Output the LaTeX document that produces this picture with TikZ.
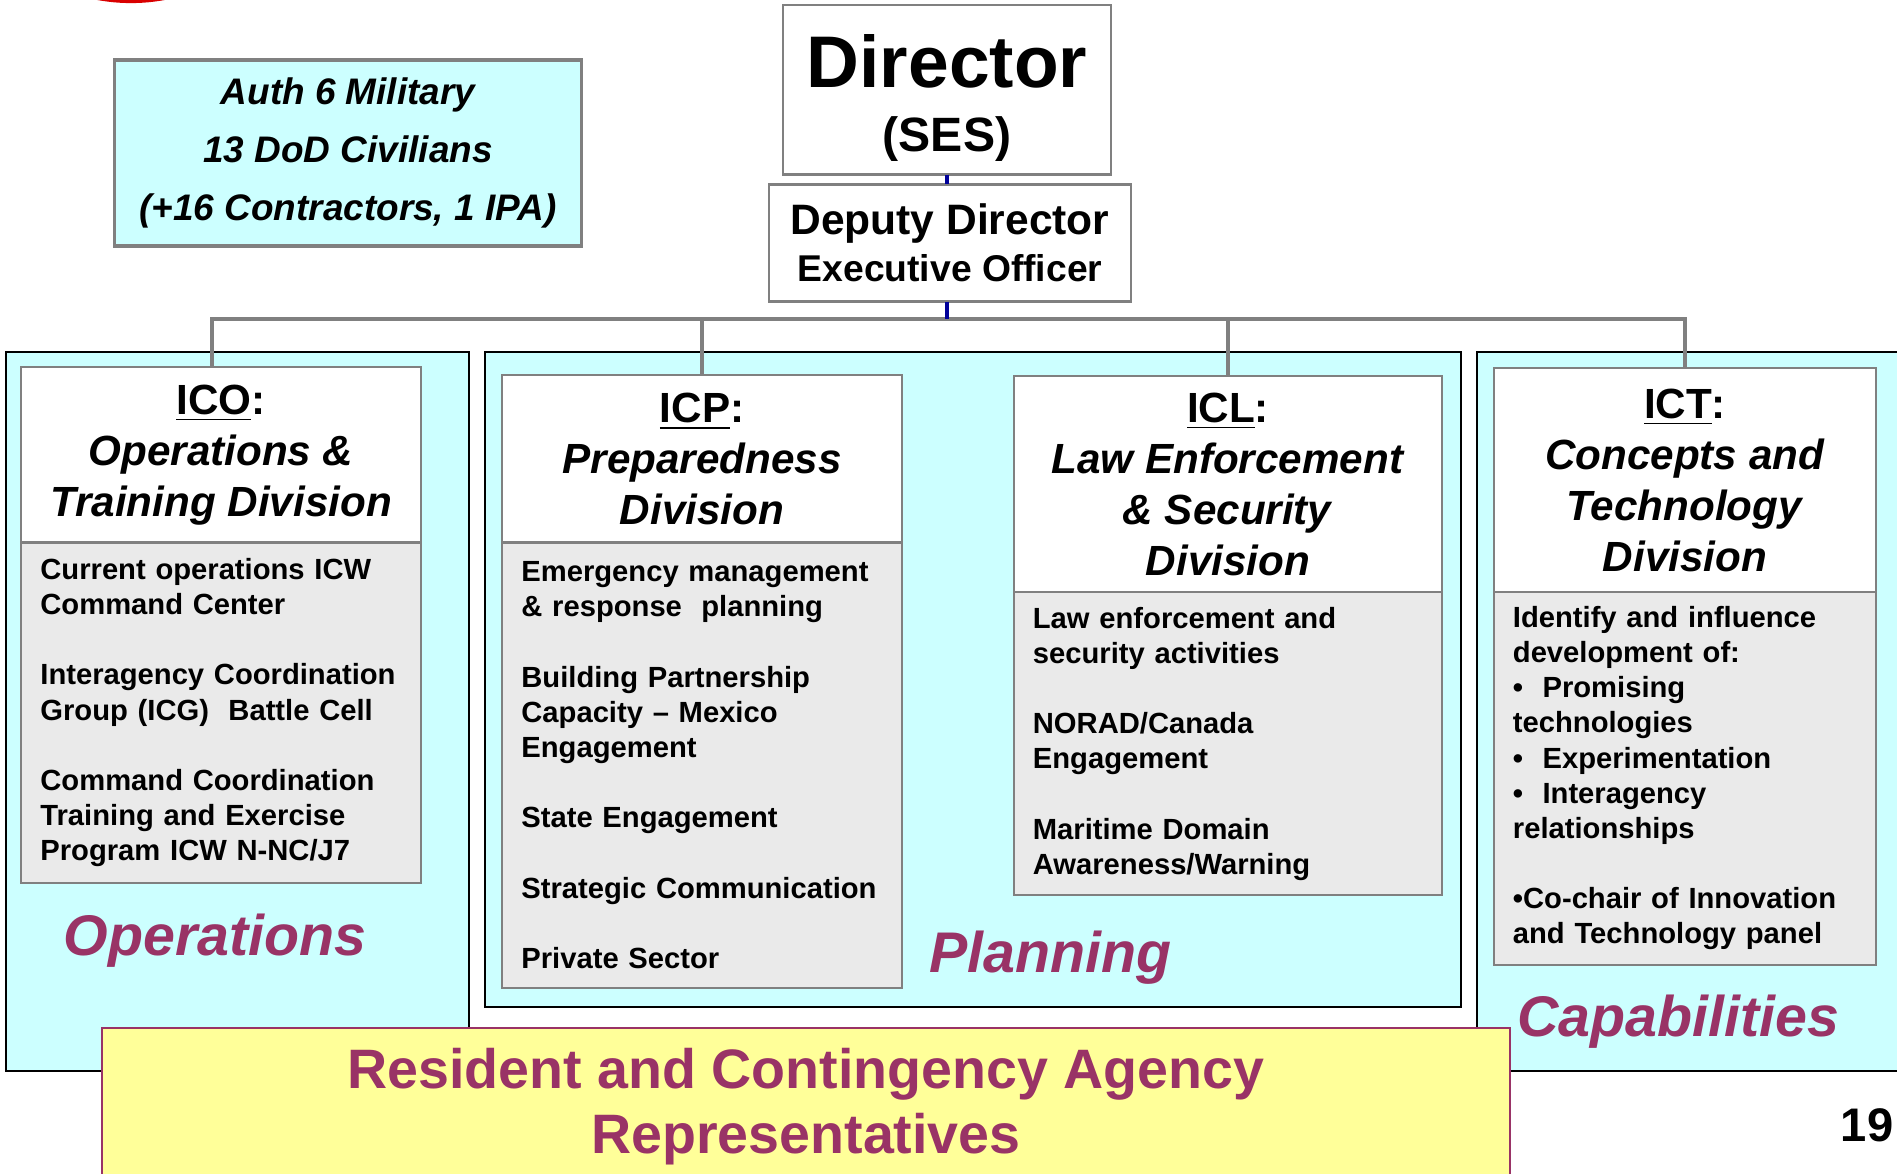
\documentclass[tikz,border=0pt]{standalone}
\usepackage{fontspec}
\setmainfont{Liberation Sans}
\usepackage{xcolor}
\usetikzlibrary{positioning}
\definecolor{panelcyan}{HTML}{CCFFFF}
\definecolor{bodygray}{HTML}{EAEAEA}
\definecolor{linegray}{HTML}{808080}
\definecolor{noteyellow}{HTML}{FFFF99}
\definecolor{plum}{HTML}{993366}
\definecolor{navy}{HTML}{000099}

\begin{document}
\begin{tikzpicture}[x=0.01cm, y=-0.01cm,
            box/.style={draw=linegray, line width=0.6pt, fill=white, align=center, inner sep=0pt, outer sep=0pt},
            headbox/.style={box, font=\bfseries\fontsize{12}{14.5}\selectfont},
            listbox/.style={box, fill=bodygray, align=left, font=\bfseries\fontsize{8.3}{10}\selectfont},
            panel/.style={draw=black, line width=0.6pt, fill=panelcyan},
            busline/.style={draw=linegray, line width=1.4pt},
            deputyline/.style={draw=navy, line width=1.2pt},
            tag/.style={text=plum, font=\bfseries\itshape\fontsize{16.3}{20}\selectfont}]
            \useasboundingbox (0,0) rectangle (1897,1174);
            \fill[red!85!black] (131,-180) circle (1.83cm);

            \draw[panel] (6,352) rectangle (469,1071);
            \draw[panel] (485,352) rectangle (1461,1007);
            \draw[panel] (1477,352) rectangle (1910,1071);

            \node[box, fill=panelcyan, line width=0.9pt, minimum width=4.66cm, minimum height=1.86cm, font=\bfseries\itshape\fontsize{10.5}{16.4}\selectfont] (auth) at (348,153) {Auth 6 Military\\13 DoD Civilians\\(+16 Contractors, 1 IPA)};

            \node[box, minimum width=3.28cm, minimum height=1.69cm, font=\bfseries] (director) at (947,90) {\fontsize{20.8}{20.5}\selectfont\rule{0pt}{19.8pt}Director\\[6.3pt]\fontsize{13.7}{20.5}\selectfont (SES)};
            \node[box, minimum width=3.62cm, minimum height=1.17cm, font=\bfseries\fontsize{12.1}{13.4}\selectfont] (deputy) at (950,243) {Deputy Director\\{\fontsize{10.6}{13.4}\selectfont Executive Officer}};

            \node[headbox, minimum width=3.99cm, minimum height=1.75cm] (ico) at (221,455) {\underline{ICO}:\\\textit{Operations \&}\\\textit{Training Division}};
            \node[listbox, below=0pt of ico, minimum width=3.99cm, minimum height=3.40cm, text width=3.61cm] (icobody) {Current operations ICW\\Command Center\\[10pt]Interagency Coordination\\Group (ICG)\ \ Battle Cell\\[10pt]Command Coordination\\Training and Exercise\\Program ICW N-NC/J7};

            \node[headbox, minimum width=3.99cm, minimum height=1.67cm] (icp) at (702,459) {\underline{ICP}:\\\textit{Preparedness}\\\textit{Division}};
            \node[listbox, below=0pt of icp, minimum width=3.99cm, minimum height=4.45cm, text width=3.61cm] (icpbody) {Emergency management\\\& response\ \ planning\\[10pt]Building Partnership\\Capacity – Mexico\\Engagement\\[10pt]State Engagement\\[10pt]Strategic Communication\\[10pt]Private Sector};

            \node[headbox, minimum width=4.28cm, minimum height=2.16cm] (icl) at (1228,484) {\underline{ICL}:\\\textit{Law Enforcement}\\\textit{\& Security}\\\textit{Division}};
            \node[listbox, below=0pt of icl, minimum width=4.28cm, minimum height=3.03cm, text width=3.90cm] (iclbody) {Law enforcement and\\security activities\\[10pt]NORAD/Canada\\Engagement\\[10pt]Maritime Domain\\Awareness/Warning};

            \node[headbox, minimum width=3.82cm, minimum height=2.23cm] (ict) at (1685,480) {\underline{ICT}:\\\textit{Concepts and}\\\textit{Technology}\\\textit{Division}};
            \node[listbox, below=0pt of ict, minimum width=3.82cm, minimum height=3.73cm, text width=3.44cm] (ictbody) {Identify and influence\\development of:\\\textbullet\ \ Promising\\technologies\\\textbullet\ \ Experimentation\\\textbullet\ \ Interagency\\relationships\\[10pt]\textbullet Co-chair of Innovation\\and Technology panel};

            \coordinate (bus) at (947,319);
            \draw[busline] ([xshift=-0.09cm]ico.north) -- ([xshift=-0.09cm]ico.north |- bus) -- (ict.north |- bus) -- (ict.north);
            \draw[busline] (icp.north) -- (icp.north |- bus);
            \draw[busline] (icl.north) -- (icl.north |- bus);
            \draw[deputyline] (director.south) -- (director.south |- deputy.north);
            \draw[deputyline] (director.south |- deputy.south) -- (bus);

            \node[tag] (optag) at (215,941) {Operations};
            \node[tag] (plantag) at (1050,958) {Planning};
            \node[tag] (captag) at (1678,1022) {Capabilities};

            \node[draw=plum, line width=0.6pt, fill=noteyellow, text=plum, anchor=north, minimum width=14.08cm, minimum height=1.57cm, align=center, font=\bfseries\fontsize{15.8}{18.5}\selectfont] (agency) at (806,1027) {Resident and Contingency Agency\\Representatives};

            \node[font=\bfseries\fontsize{13.4}{16}\selectfont] (pagenum) at (1867,1125) {19};
        \end{tikzpicture}
\end{document}
